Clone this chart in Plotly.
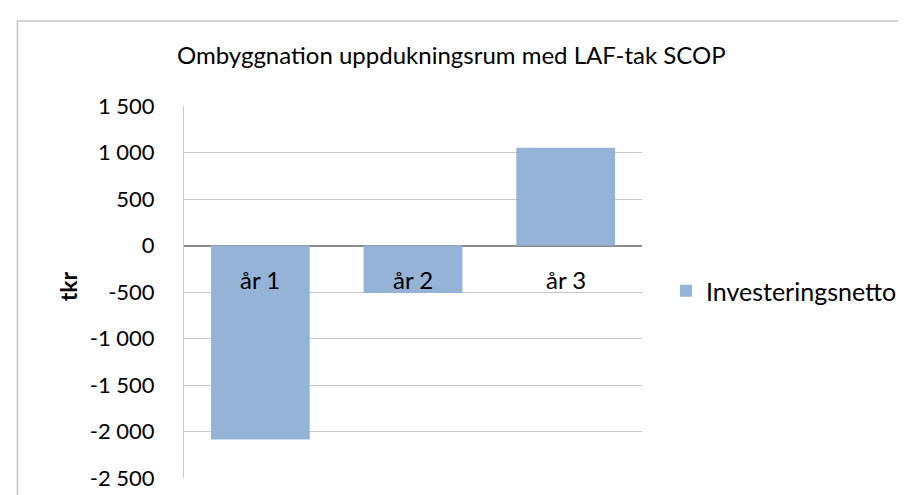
import plotly.graph_objects as go

categories = ["år 1", "år 2", "år 3"]
values = [-2085, -511, 1050]
series_name = "Investeringsnetto"
tick_vals = [-2500, -2000, -1500, -1000, -500, 0, 500, 1000, 1500]
tick_text = ["-2 500", "-2 000", "-1 500", "-1 000", "-500", "0", "500", "1 000", "1 500"]
title_text = "Ombyggnation uppdukningsrum med LAF-tak SCOP"
y_title = "tkr"

FONT = "Lato"

W, H = 906, 495
L, R, T, B = 176, 635, 98, 474
pw, ph = R - L, B - T

def px(x):
    return (x - L) / pw

def py(y):
    return (B - y) / ph

fig = go.Figure()
fig.add_trace(go.Bar(
    x=categories, y=values, name=series_name,
    marker=dict(color="#95b3d7", line=dict(width=0)),
    showlegend=True,
))

annotations = []
for c in categories:
    annotations.append(dict(x=c, y=0, xref="x", yref="y", text=c, showarrow=False,
                            yanchor="middle", yshift=-34,
                            font=dict(family=FONT, size=24, color="#000000")))
annotations.append(dict(x=px(444), y=py(46), xref="paper", yref="paper", text=title_text,
                        showarrow=False, xanchor="center", yanchor="middle",
                        font=dict(family=FONT, size=24, color="#000000")))
annotations.append(dict(x=px(60), y=py(280), xref="paper", yref="paper",
                        text="<b>" + y_title + "</b>", textangle=-90,
                        showarrow=False, xanchor="center", yanchor="middle",
                        font=dict(family=FONT, size=23, color="#000000")))

fig.update_layout(
    width=W, height=H, autosize=False,
    margin=dict(l=L, r=W - R, t=T, b=H - B, pad=0),
    paper_bgcolor="white", plot_bgcolor="white",
    bargap=0.353,
    font=dict(family=FONT, size=23, color="#000000"),
    annotations=annotations,
    legend=dict(x=px(659), y=py(285), xanchor="left", yanchor="middle",
                font=dict(family=FONT, size=25, color="#000000"),
                bgcolor="rgba(0,0,0,0)", itemwidth=30),
    shapes=[dict(type="rect", xref="paper", yref="paper",
                 x0=px(9), x1=px(1000), y0=py(600), y1=py(12),
                 line=dict(color="#c4c4c4", width=1.5), layer="below")],
    xaxis=dict(range=[-0.5, 2.5], showticklabels=False, showgrid=False,
               zeroline=False, showline=False, ticks=""),
    yaxis=dict(range=[-2500, 1500], tickvals=tick_vals, ticktext=tick_text,
               showgrid=True, gridcolor="#c8c8c8", gridwidth=1,
               zeroline=True, zerolinecolor="#8c8c8c", zerolinewidth=1.5,
               showline=True, linecolor="#c8c8c8", linewidth=1,
               ticks="", ticklabelstandoff=24,
               tickfont=dict(family=FONT, size=22, color="#000000")),
)

fig.write_html("out.html")
